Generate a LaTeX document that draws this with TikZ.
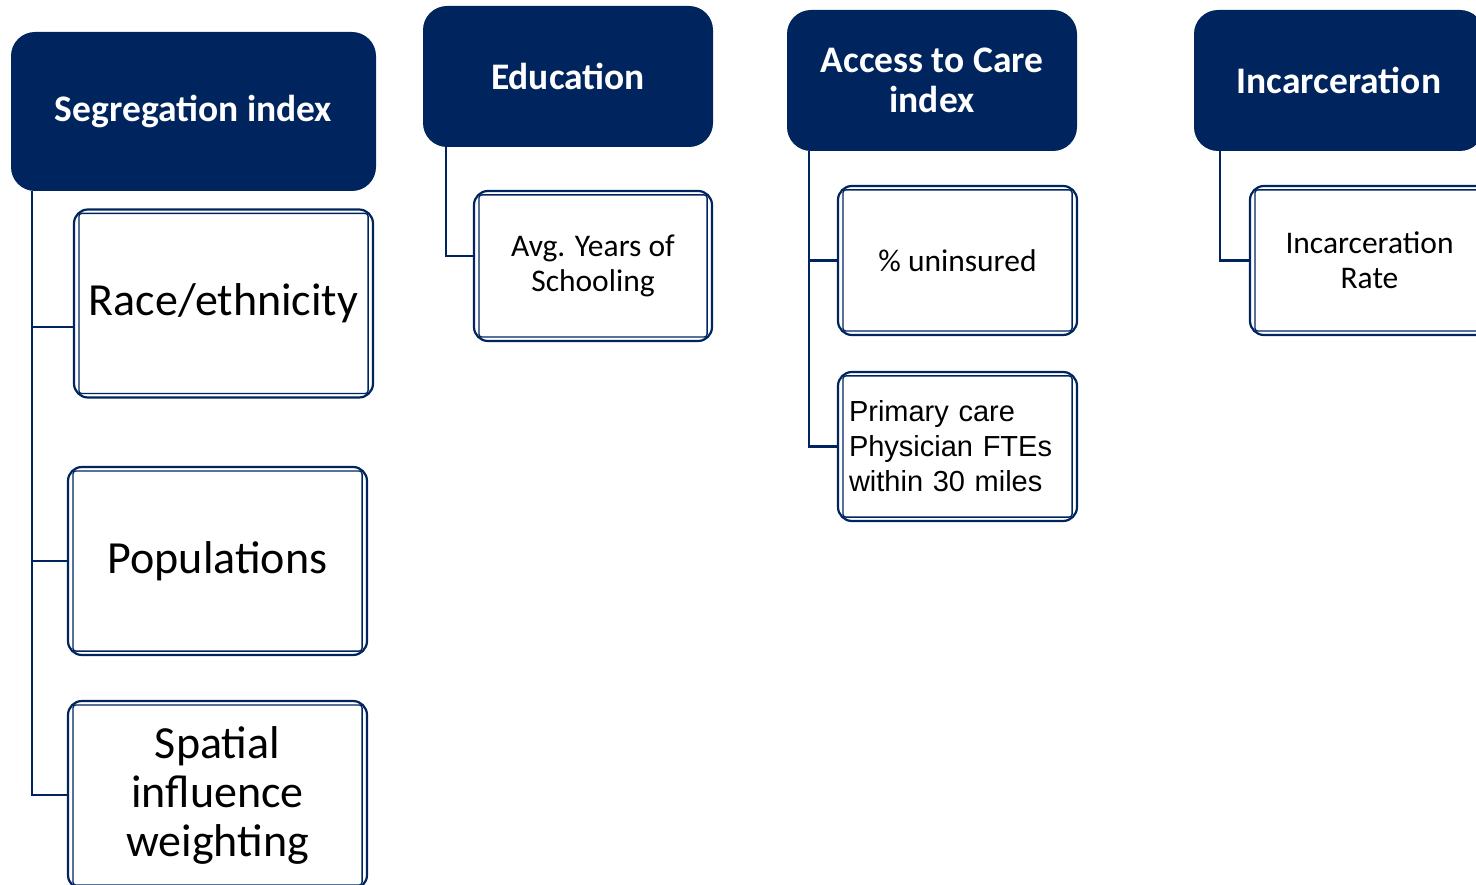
\documentclass[tikz,border=0pt]{standalone}
\usepackage{fontspec}
\setmainfont{Carlito}
\newfontfamily\arialfont{Liberation Sans}
\definecolor{navy}{RGB}{0,37,94}
\tikzset{
  head/.style={fill=navy, text=white, rounded corners=24pt, align=center, inner sep=0pt,
    minimum width=290pt, minimum height=141pt, font=\fontsize{37.5}{40}\selectfont\bfseries},
  leaf/.style={draw=navy, line width=2.2pt, rounded corners=14pt, fill=white, align=center,
    inner sep=0pt, minimum width=239pt, minimum height=149pt, font=\fontsize{31.5}{35}\selectfont},
  bigleaf/.style={leaf, minimum width=299pt, minimum height=188pt, font=\fontsize{46}{49}\selectfont},
  inner/.style={draw=navy, line width=1.3pt, rounded corners=3pt},
  link/.style={draw=navy, line width=2.6pt},
}
\begin{document}
\begin{tikzpicture}[x=1pt,y=-1pt]
\useasboundingbox (0,0) rectangle (1476,885);
\clip (0,0) rectangle (1476,885);
\node[head, minimum width=365pt, minimum height=159pt] (seg) at (193.5,111.5) {Segregation index};
\node[bigleaf] (race) at (223.5,303.5) {Race/ethnicity};
\node[bigleaf] (pop) at (217.5,561) {Populations};
\node[bigleaf] (spat) at (217.5,795) {Spatial\\influence\\weighting};
\node[head] (edu) at (568,76.5) {Education};
\node[leaf, minimum width=238pt, minimum height=150pt] (school) at (593,266) {Avg. Years of\\Schooling};
\node[head] (care) at (932,80.5) {Access to Care\\index};
\node[leaf] (unins) at (957.5,260.5) {\% uninsured};
\node[leaf, text width=217pt, align=left, font=\arialfont\fontsize{29}{35}\selectfont] (prim) at (957.5,446.5) {Primary care\\Physician FTEs\\within 30 miles};
\node[head] (jail) at (1339,80.5) {Incarceration};
\node[leaf] (rate) at (1369.5,260.5) {Incarceration\\Rate};
\foreach \n in {race,pop,spat,school,unins,prim,rate}
  \draw[inner] ([xshift=6pt,yshift=-5pt]\n.north west) rectangle ([xshift=-6pt,yshift=5pt]\n.south east);
\coordinate (segtrunk) at ([xshift=21pt]seg.south west);
\draw[link] (segtrunk) |- (spat.west);
\draw[link] (segtrunk |- 0,327) -- (race.west |- 0,327);
\draw[link] (segtrunk |- pop.west) -- (pop.west);
\draw[link] ([xshift=23pt]edu.south west) |- ([yshift=10pt]school.west);
\coordinate (caretrunk) at ([xshift=22pt]care.south west);
\draw[link] (caretrunk) |- (prim.west);
\draw[link] (caretrunk |- unins.west) -- (unins.west);
\draw[link] ([xshift=26pt]jail.south west) |- (rate.west);
\end{tikzpicture}
\end{document}
